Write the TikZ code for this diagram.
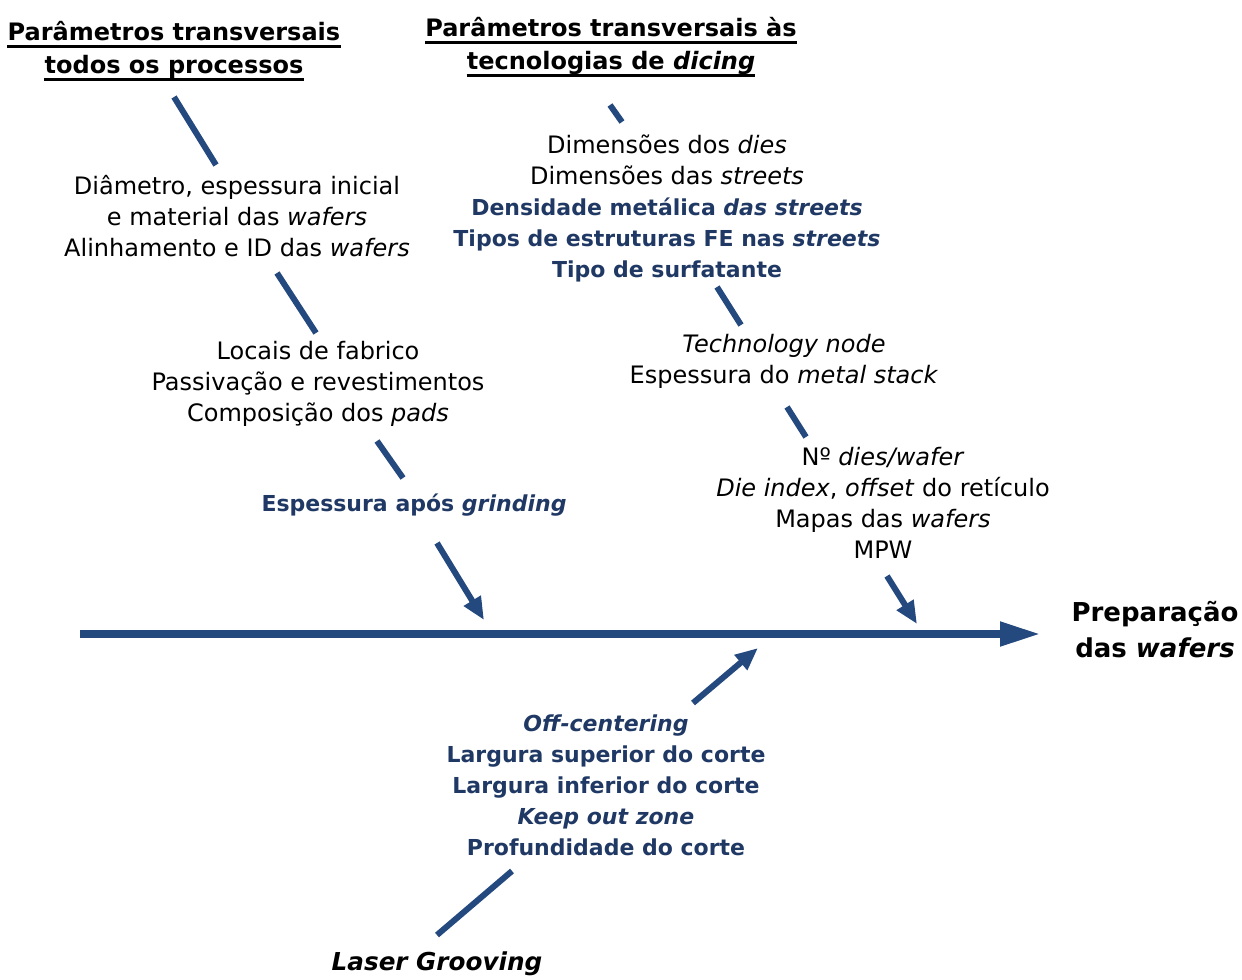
\documentclass[tikz,border=0pt]{standalone}
\usepackage{fontspec}
\setmainfont{DejaVu Sans}
\usetikzlibrary{arrows.meta}
\definecolor{bone}{HTML}{24497E}
\definecolor{factor}{HTML}{1F3864}
% highlighted (blue, bold) factor text
\newcommand\fac[1]{{\color{factor}\fontsize{16.5}{23.25}\selectfont\bfseries #1}}
\begin{document}
\begin{tikzpicture}[x=0.75pt,y=-0.75pt,
  txt/.style={align=center,inner sep=0pt,font=\fontsize{18}{23.25}\selectfont},
  hd/.style={inner sep=0pt,font=\fontsize{18}{23.25}\selectfont\bfseries},
  seg/.style={draw=bone,line width=4.5pt},
  arr/.style={seg,-{Triangle[length=17pt,width=14pt]}},
  spine/.style={draw=bone,line width=5.3pt,-{Triangle[length=30pt,width=17.5pt]}},
  ul/.style={draw=black,line width=1.8pt}]
\useasboundingbox (0,0) rectangle (1242,979);

% headings
\node[hd,anchor=base] (h1a) at (174,40) {Parâmetros transversais};
\node[hd,anchor=base] (h1b) at (174,73) {todos os processos};
\node[hd,anchor=base] (h2a) at (611,36) {Parâmetros transversais às};
\node[hd,anchor=base] (h2b) at (611,69) {tecnologias de \textit{dicing}};
\foreach \n in {h1a,h1b,h2a,h2b}
  \draw[ul] ([yshift=-5pt]\n.base west) -- ([yshift=-5pt]\n.base east);

% upper-left bone
\node[txt] (c1) at (237,216) {Diâmetro, espessura inicial\\e material das \textit{wafers}\\Alinhamento e ID das \textit{wafers}};
\node[txt] (c2) at (318,384) {Locais de fabrico\\Passivação e revestimentos\\Composição dos \textit{pads}};
\node[txt] (c3) at (414,505) {\fac{Espessura após \textit{grinding}}};

% upper-right bone
\node[txt] (d1) at (667,208) {Dimensões dos \textit{dies}\\Dimensões das \textit{streets}\\\fac{Densidade metálica \textit{das streets}}\\\fac{Tipos de estruturas FE nas \textit{streets}}\\\fac{Tipo de surfatante}};
\node[txt] (d2) at (784,361) {\textit{Technology node}\\Espessura do \textit{metal stack}};
\node[txt] (d3) at (883,503) {Nº \textit{dies/wafer}\\\textit{Die index}, \textit{offset} do retículo\\Mapas das \textit{wafers}\\MPW};

% lower bone
\node[txt] (e1) at (606,785) {\fac{\textit{Off-centering}}\\\fac{Largura superior do corte}\\\fac{Largura inferior do corte}\\\fac{\textit{Keep out zone}}\\\fac{Profundidade do corte}};
\node[txt,font=\fontsize{18.5}{23.25}\selectfont\bfseries\itshape] (e0) at (437,964) {Laser Grooving};

% effect
\node[txt,font=\fontsize{19.5}{27}\selectfont\bfseries] (fx) at (1155,630) {Preparação\\das \textit{wafers}};

% bone segments
\coordinate (s1a) at (174,97);  \coordinate (s1b) at (216,165);
\coordinate (s2a) at (277,273); \coordinate (s2b) at (316,333);
\coordinate (s3a) at (377,441); \coordinate (s3b) at (403,478);
\coordinate (s4a) at (437,543); \coordinate (s4b) at (484,620);
\coordinate (r1a) at (610,105); \coordinate (r1b) at (622,122);
\coordinate (r2a) at (717,287); \coordinate (r2b) at (741,325);
\coordinate (r3a) at (787,407); \coordinate (r3b) at (806,437);
\coordinate (r4a) at (887,576); \coordinate (r4b) at (917,624);
\coordinate (b1a) at (437,935); \coordinate (b1b) at (512,871);
\coordinate (b2a) at (693,703); \coordinate (b2b) at (758,648);
\coordinate (m0) at (80,634);   \coordinate (m1) at (1040,634);

\draw[seg] (s1a) -- (s1b);
\draw[seg] (s2a) -- (s2b);
\draw[seg] (s3a) -- (s3b);
\draw[arr] (s4a) -- (s4b);
\draw[seg] (r1a) -- (r1b);
\draw[seg] (r2a) -- (r2b);
\draw[seg] (r3a) -- (r3b);
\draw[arr] (r4a) -- (r4b);
\draw[seg] (b1a) -- (b1b);
\draw[arr] (b2a) -- (b2b);
\draw[spine] (m0) -- (m1);
\end{tikzpicture}
\end{document}
